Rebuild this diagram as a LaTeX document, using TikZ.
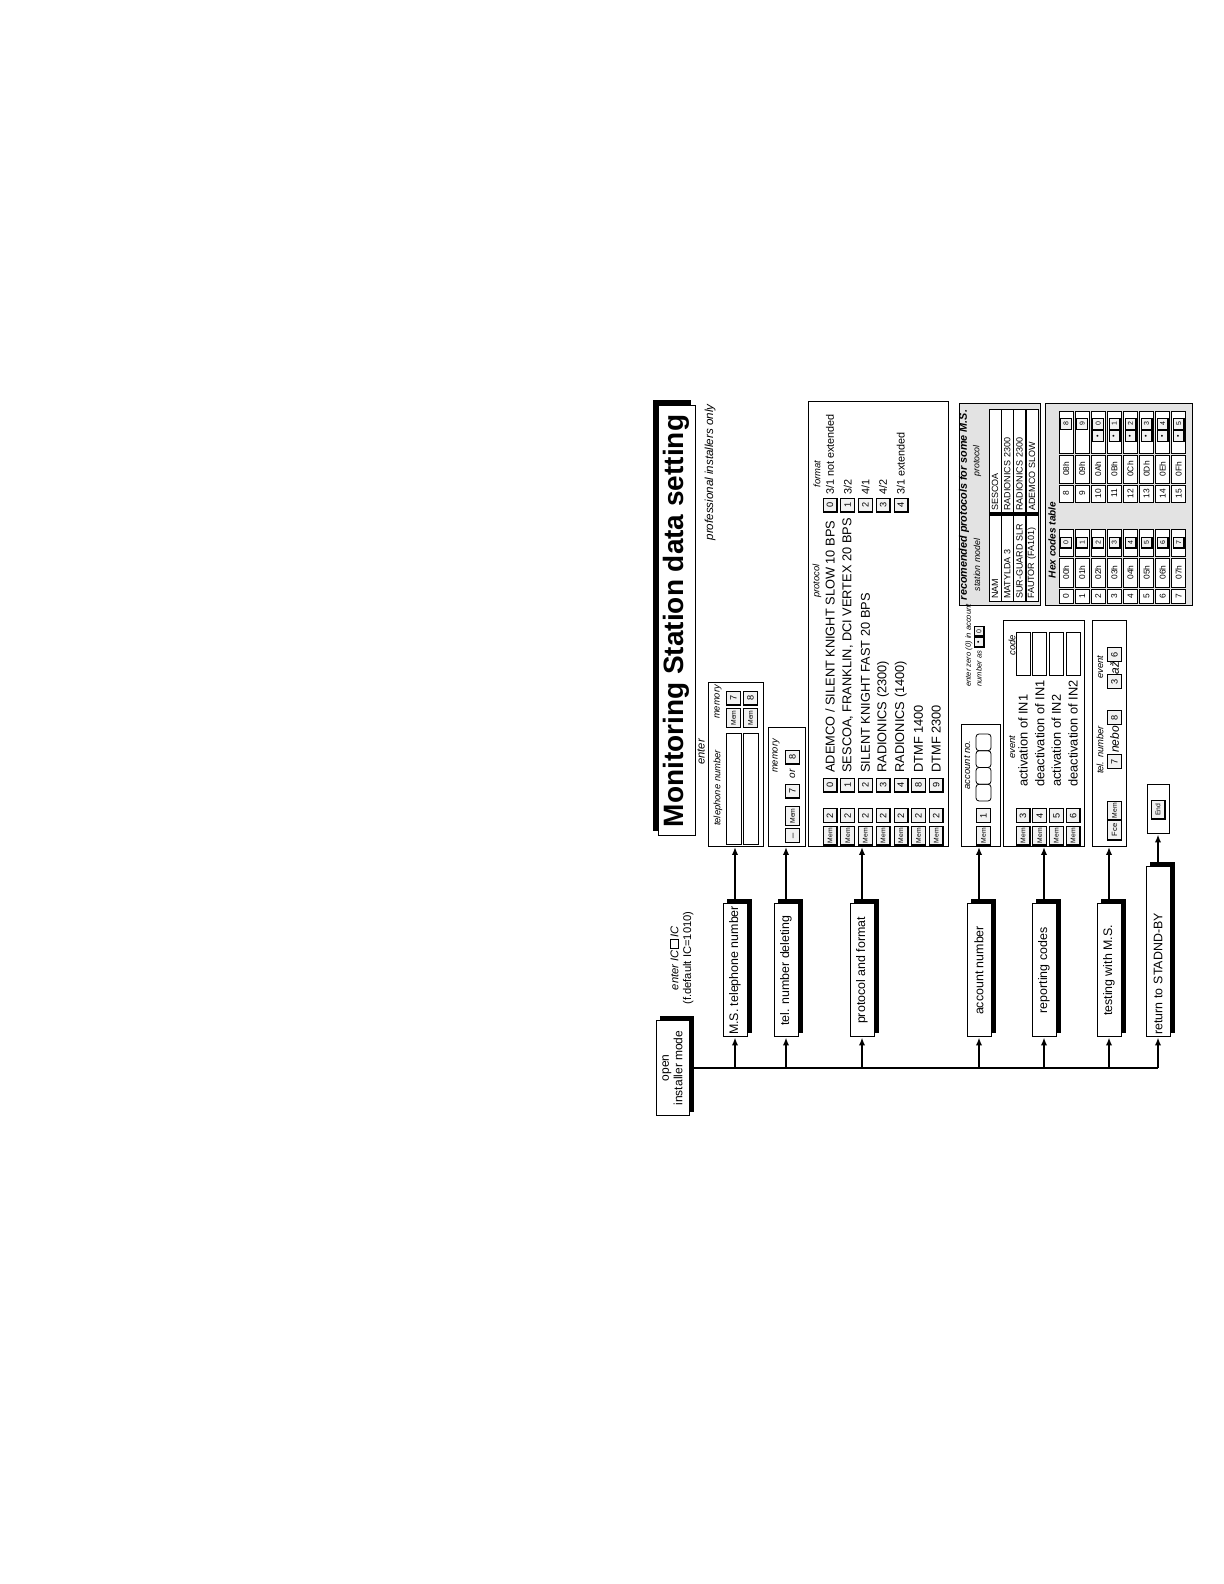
\documentclass[tikz,border=0pt]{standalone}
\usepackage{fontspec}
\setmainfont{Liberation Sans}
\usetikzlibrary{positioning,calc,arrows.meta,backgrounds}
\newcommand{\fsz}[1]{\fontsize{#1}{#1}\selectfont}
\tikzset{
  stepbox/.style={draw, fill=white, line width=0.5pt, minimum width=66.5pt, minimum height=12pt, inner sep=1pt, font=\fsz{6.2}},
  area/.style={draw, fill=white, line width=0.5pt, inner sep=0pt},
  graybox/.style={draw, fill=gray!22, line width=0.5pt, inner sep=0pt},
  keyb/.style={draw, fill=gray!10, line width=0.3pt, minimum width=7pt, minimum height=7pt, inner sep=0pt, font=\fsz{4.6},
    path picture={\draw[line width=0.9pt] (path picture bounding box.south west) -- (path picture bounding box.south east) -- (path picture bounding box.north east);}},
  memkey/.style={keyb, minimum width=9.5pt, font=\fsz{3.4}},
  smallkey/.style={keyb, minimum width=5.5pt, minimum height=5.5pt, font=\fsz{3.5}},
  lbl/.style={inner sep=0pt, font=\fsz{4.7}\itshape},
  txt/.style={inner sep=0pt, anchor=west, font=\fsz{6.4}},
  cell/.style={draw, fill=white, line width=0.4pt, inner sep=0.8pt, minimum height=6pt, font=\fsz{4.5}},
  flow/.style={-{Latex[length=4pt,width=3.2pt]}, line width=1pt},
}
\begin{document}
\begin{tikzpicture}[x=0.5pt, y=0.5pt]
\useasboundingbox (0,0) rectangle (1224,1584);
\begin{scope}[rotate=90, transform shape]
    % Title
    \node[area, minimum width=215pt, minimum height=18.5pt, font=\fsz{14}\bfseries] (title) at (963,-676.5) {Monitoring Station data setting};
    \node[lbl, anchor=east, font=\fsz{5.8}\itshape] (subtitle) at (1180,-710) {professional installers only};
    % Menu
    \node[stepbox, minimum width=47.5pt, minimum height=16.5pt, align=center, font=\fontsize{6}{6.8}\selectfont] (open) at (516,-672.5) {open\\installer mode};
    \node[align=center, inner sep=0pt, font=\fontsize{5.6}{6.4}\selectfont] (lic) at (626,-681.5)
        {\textit{enter IC}\,{\setlength{\fboxsep}{0pt}\setlength{\fboxrule}{0.3pt}\fbox{\rule{0pt}{4pt}\hspace{4pt}}}\,\textit{IC}\\(f.default IC=1010)};
    \foreach \v/\n/\t in {735/stphone/M.S. telephone number, 786/stdel/tel. number deleting, 862/stprot/protocol and format,
                          979/stacc/account number, 1044/strep/reporting codes, 1109/sttest/testing with M.S.} {
        \node[stepbox] (\n) at (613.5,-\v) {\t};
        \coordinate (b\n) at (516,-\v);
        \coordinate (e\n) at (737,-\v);
    }
    \node[stepbox, minimum width=85pt, text width=83pt, align=left] (stret) at (632,-1158) {return to STADND-BY};
    \coordinate (bstret) at (516,-1158);
    % Shadows
    \begin{scope}[on background layer]
        \foreach \n in {open,stphone,stdel,stprot,stacc,strep,sttest,stret}
            \fill ($(\n.south west)+(4,-4)$) rectangle ($(\n.north east)+(4,-4)$);
        \fill ($(title.south west)+(5,5)$) rectangle ($(title.north east)+(5,5)$);
    \end{scope}
    % Content boxes
    \node[area, minimum width=82pt, minimum height=27.5pt] (cphone) at (819,-735.5) {};
    \node[area, minimum width=59.5pt, minimum height=18.5pt] (cdel) at (796.5,-786.5) {};
    \node[area, minimum width=222.5pt, minimum height=70pt] (cprot) at (959.5,-878) {};
    \node[area, minimum width=61pt, minimum height=19.5pt] (cacc) at (798,-980.5) {};
    \node[area, minimum width=113pt, minimum height=40.5pt] (crep) at (850,-1043.5) {};
    \node[area, minimum width=113pt, minimum height=17pt] (ctest) at (850,-1109) {};
    \node[area, minimum width=24.5pt, minimum height=11pt] (cend) at (774.5,-1158) {};
    \node[graybox, minimum width=101pt, minimum height=40.5pt] (rectab) at (1079,-999.5) {};
    \node[graybox, minimum width=101pt, minimum height=73.5pt] (hextab) at (1079,-1118.5) {};
    % Connectors
    \draw[line width=0.7pt] (open.south) -- (bstret);
    \foreach \n in {stphone,stdel,stprot,stacc,strep,sttest,stret}
        \draw[flow] (b\n) -- (\n.west);
    \foreach \n in {stphone,stdel,stprot,stacc,strep,sttest}
        \draw[flow] (\n.east) -- (e\n);
    \draw[flow] (stret.east) -- (cend.west);
    % Telephone number
    \node[lbl, font=\fsz{5.6}\itshape] (lenter) at (832,-701) {enter};
    \node[lbl] (ltelnum) at (796,-718) {telephone number};
    \node[lbl] (lmemory) at (882,-718) {memory};
    \foreach \i/\k in {0/7,1/8} {
        \draw[line width=0.4pt] (740,-726-17*\i) rectangle (851,-741-17*\i);
        \node[memkey] (pm\k) at (866,-733.5-17*\i) {Mem};
        \node[keyb] (pk\k) at (886,-733.5-17*\i) {\k};
    }
    % Deleting
    \node[lbl] (ldelmem) at (828,-776) {memory};
    \node[keyb] (dblank) at (748.5,-792.5) {\_};
    \node[memkey] (dmem) at (768,-792.5) {Mem};
    \node[keyb] (d7) at (793,-792.5) {7};
    \node[lbl, font=\fsz{5}\itshape] (dor) at (810,-792.5) {or};
    \node[keyb] (d8) at (827,-792.5) {8};
    % Protocol and format
    \node[lbl] (lprot) at (1003,-817) {protocol};
    \node[lbl] (lform) at (1110,-817) {format};
    \foreach \n/\t [count=\i from 0] in {0/{ADEMCO / SILENT KNIGHT SLOW 10 BPS}, 1/{SESCOA, FRANKLIN, DCI VERTEX 20 BPS},
            2/{SILENT KNIGHT FAST 20 BPS}, 3/{RADIONICS (2300)}, 4/{RADIONICS (1400)}, 8/{DTMF 1400}, 9/{DTMF 2300}} {
        \node[memkey] (prm\i) at (748.5,-830-17.7*\i) {Mem};
        \node[keyb] (prt\i) at (768.5,-830-17.7*\i) {2};
        \node[keyb] (prk\i) at (799,-830-17.7*\i) {\n};
        \node[txt] (prx\i) at (811,-830-17.7*\i) {\t};
    }
    \foreach \t [count=\i from 0] in {3/1 not extended, 3/2, 4/1, 4/2, 3/1 extended} {
        \node[keyb] (fk\i) at (1079,-830-17.7*\i) {\i};
        \node[txt, font=\fsz{5.4}] (fx\i) at (1089,-830-17.7*\i) {\t};
    }
    % Account number
    \node[lbl] (lacc) at (819,-967) {account no.};
    \node[memkey] (am) at (748.5,-983.5) {Mem};
    \node[keyb] (a1) at (768.5,-983.5) {1};
    \foreach \i in {0,...,3}
        \draw[line width=0.4pt, rounded corners=1.5pt] (783+16.75*\i,-976) rectangle +(16.75,-15);
    \node[lbl, anchor=west, font=\fsz{3.8}\itshape] (lzero) at (897,-969) {enter zero (0) in account};
    \node[lbl, anchor=west, font=\fsz{3.8}\itshape] (lnum) at (897,-979) {number as};
    \node[smallkey, minimum width=5pt, minimum height=5pt, right=1.5pt of lnum] (zdot) {•};
    \node[smallkey, minimum width=5pt, minimum height=5pt, right=0pt of zdot] (zzero) {0};
    % Reporting codes
    \node[lbl] (levent) at (837,-1012) {event};
    \node[lbl] (lcode) at (939,-1012) {code};
    \foreach \d/\t [count=\i from 0] in {3/activation of IN1, 4/deactivation of IN1, 5/activation of IN2, 6/deactivation of IN2} {
        \node[memkey] (rm\i) at (748.5,-1023-16.7*\i) {Mem};
        \node[keyb] (rk\i) at (768.5,-1023-16.7*\i) {\d};
        \node[txt] (rx\i) at (797,-1023-16.7*\i) {\t};
        \draw[line width=0.4pt] (909,-1016-16.7*\i) rectangle (952,-1030-16.7*\i);
    }
    % Testing
    \node[lbl] (ltn) at (834,-1100) {tel. number};
    \node[lbl] (levt) at (917,-1100) {event};
    \node[memkey, minimum width=10pt, font=\fsz{3.8}] (tfce) at (754,-1114.5) {Fce};
    \node[memkey] (tmem) at (773.5,-1114.5) {Mem};
    \node[keyb] (t7) at (822.5,-1114.5) {7};
    \node[lbl, font=\fsz{6}\itshape] (tnebo) at (844.5,-1114.5) {nebo};
    \node[keyb] (t8) at (866.5,-1114.5) {8};
    \node[keyb] (t3) at (902.5,-1114.5) {3};
    \node[lbl, font=\fsz{6}\itshape] (taz) at (916,-1114.5) {až};
    \node[keyb] (t6) at (929.5,-1114.5) {6};
    % End
    \node[memkey] (kend) at (774.5,-1158) {End};
    % Recommended protocols
    \node[inner sep=0pt, font=\fsz{5.4}\bfseries\itshape] (rtitle) at (1079,-964) {recomended protocols for some M.S.};
    \node[lbl, font=\fsz{4.4}\itshape] (lmodel) at (1019,-977) {station model};
    \node[lbl, font=\fsz{4.4}\itshape] (lrprot) at (1123,-977) {protocol};
    \foreach \m/\p [count=\i from 0] in {NAM/SESCOA, MATYLDA 3/RADIONICS 2300, SUR-GUARD SLR/RADIONICS 2300, {FAUTOR (FA101)}/ADEMCO SLOW} {
        \node[cell, minimum width=43pt, text width=41pt, align=left] (rmod\i) at (1026,-995-12.3*\i) {\m};
        \node[cell, minimum width=52pt, text width=50pt, align=left] (rpro\i) at (1123,-995-12.3*\i) {\p};
    }
    \draw[line width=1.3pt] (1070.5,-989) -- (1070.5,-1038.5);
    % Hex codes
    \node[inner sep=0pt, font=\fsz{5}\bfseries\itshape] (lhex) at (1044,-1052) {Hex codes table};
    \foreach \i in {0,...,7} {
        \node[cell, minimum width=7pt, minimum height=7pt, font=\fsz{4.2}] (hi\i) at (988,-1066-16.1*\i) {\i};
        \node[cell, minimum width=14.5pt, minimum height=7pt, font=\fsz{4.2}] (hh\i) at (1011.5,-1066-16.1*\i) {0\i h};
        \node[cell, minimum width=13.5pt, minimum height=7pt] (hc\i) at (1041.5,-1066-16.1*\i) {};
        \node[smallkey] (hk\i) at (hc\i) {\i};
    }
    \foreach \n/\h/\d [count=\i from 0] in {8/08h/8, 9/09h/9, 10/0Ah/0, 11/0Bh/1, 12/0Ch/2, 13/0Dh/3, 14/0Eh/4, 15/0Fh/5} {
        \node[cell, minimum width=8.5pt, minimum height=7pt, font=\fsz{4.2}] (hj\i) at (1090.5,-1066-16.1*\i) {\n};
        \node[cell, minimum width=14pt, minimum height=7pt, font=\fsz{4.2}] (hg\i) at (1115,-1066-16.1*\i) {\h};
        \node[cell, minimum width=21pt, minimum height=7pt] (hd\i) at (1152,-1066-16.1*\i) {};
        \node[smallkey] (hm\i) at (1160,-1066-16.1*\i) {\d};
    }
    \foreach \i in {2,...,7}
        \node[smallkey] (hp\i) at (1148,-1066-16.1*\i) {•};
\end{scope}
\end{tikzpicture}
\end{document}
